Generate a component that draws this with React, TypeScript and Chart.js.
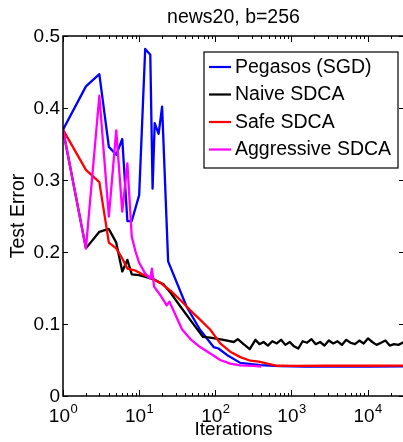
import React, { useEffect, useRef } from "react";
import { Chart, registerables } from "chart.js";

Chart.register(...registerables);

const TITLE = "news20, b=256";
const X_LABEL = "Iterations";
const Y_LABEL = "Test Error";
const SERIES_NAMES = ["Pegasos (SGD)", "Naive SDCA", "Safe SDCA", "Aggressive SDCA"];
const SERIES_COLORS = ["#0000ff", "#000000", "#ff0000", "#ff00ff"];
const X_MIN = 1;
const X_MAX = 30000;
const Y_MIN = 0;
const Y_MAX = 0.5;
const Y_TICKS = [0, 0.1, 0.2, 0.3, 0.4, 0.5];
const Y_TICK_LABELS = ["0", "0.1", "0.2", "0.3", "0.4", "0.5"];
const X_DECADES = [0, 1, 2, 3, 4];

const pegasosIter = [1, 2, 3, 4, 5, 6, 7, 8, 10, 12, 14, 15, 16, 18, 20, 24, 42, 63, 95, 110, 142, 213, 390, 700, 1500, 4000, 10000, 30000];
const pegasosErr = [0.370, 0.430, 0.447, 0.346, 0.335, 0.357, 0.243, 0.243, 0.279, 0.482, 0.474, 0.288, 0.379, 0.364, 0.402, 0.187, 0.124, 0.092, 0.068, 0.066, 0.057, 0.046, 0.043, 0.0415, 0.041, 0.041, 0.041, 0.0412];

const naiveIter = [1, 2, 3, 4, 5, 6, 7, 8, 10, 15, 21, 26, 35, 49, 69, 86, 128, 175, 197, 235, 283, 336, 380, 430, 490, 560, 640, 730, 830, 950, 1080, 1230, 1400, 1600, 1830, 2080, 2380, 2710, 3090, 3530, 4020, 4590, 5230, 5970, 6810, 7770, 8860, 10100, 11500, 13100, 15000, 17100, 19500, 22200, 25300, 30000];
const naiveErr = [0.370, 0.205, 0.228, 0.232, 0.213, 0.173, 0.189, 0.169, 0.168, 0.1625, 0.155, 0.143, 0.124, 0.103, 0.082, 0.081, 0.078, 0.075, 0.079, 0.072, 0.065, 0.078, 0.072, 0.075, 0.070, 0.076, 0.073, 0.078, 0.071, 0.075, 0.069, 0.066, 0.076, 0.074, 0.079, 0.072, 0.075, 0.070, 0.077, 0.073, 0.076, 0.071, 0.078, 0.074, 0.072, 0.077, 0.073, 0.080, 0.075, 0.071, 0.074, 0.077, 0.070, 0.072, 0.071, 0.075];

const safeIter = [1, 2, 3, 4, 5, 6, 7, 9, 11, 14, 19, 26, 35, 47, 63, 86, 116, 157, 213, 289, 372, 650, 1200, 3000, 8000, 30000];
const safeErr = [0.370, 0.314, 0.297, 0.213, 0.205, 0.191, 0.177, 0.174, 0.169, 0.165, 0.157, 0.146, 0.133, 0.119, 0.106, 0.092, 0.073, 0.0615, 0.054, 0.049, 0.0476, 0.042, 0.0418, 0.042, 0.042, 0.0422];

const aggrIter = [1, 2, 3, 4, 5, 6, 7, 8, 9, 10, 12, 14, 14.7, 15.7, 19, 23, 25, 30, 36.5, 47, 63, 86, 116, 157, 213, 320, 400];
const aggrErr = [0.370, 0.205, 0.417, 0.249, 0.369, 0.256, 0.323, 0.221, 0.200, 0.185, 0.170, 0.163, 0.177, 0.152, 0.140, 0.126, 0.131, 0.1125, 0.0926, 0.079, 0.068, 0.059, 0.050, 0.045, 0.0426, 0.0417, 0.041];

const FONT = "'Liberation Sans', Arial, Helvetica, sans-serif";

const toPoints = (xs: number[], ys: number[]) => xs.map((x, i) => ({ x, y: ys[i] }));

const matlabAxes = {
  id: "matlabAxes",
  afterDatasetsDraw(chart: any) {
    const { ctx, chartArea: a, scales } = chart;
    const xs = scales.x;
    const ys = scales.y;
    ctx.save();
    ctx.strokeStyle = "#000";
    ctx.fillStyle = "#000";

    // ticks (inward, all four sides)
    ctx.lineWidth = 1;
    ctx.beginPath();
    for (const v of Y_TICKS) {
      const p = Math.round(ys.getPixelForValue(v)) + 0.5;
      ctx.moveTo(a.left, p);
      ctx.lineTo(a.left + 5, p);
      ctx.moveTo(a.right, p);
      ctx.lineTo(a.right - 5, p);
    }
    for (const d of X_DECADES) {
      for (let m = 1; m <= 9; m++) {
        const v = m * Math.pow(10, d);
        if (v > X_MAX) break;
        const len = m === 1 ? 6 : 3;
        const p = Math.round(xs.getPixelForValue(v)) + 0.5;
        ctx.moveTo(p, a.bottom);
        ctx.lineTo(p, a.bottom - len);
        ctx.moveTo(p, a.top);
        ctx.lineTo(p, a.top + len);
      }
    }
    ctx.stroke();

    // box
    ctx.lineWidth = 1.5;
    ctx.strokeRect(a.left, a.top, a.right - a.left, a.bottom - a.top);

    // y tick labels
    ctx.font = `19px ${FONT}`;
    ctx.textAlign = "right";
    ctx.textBaseline = "middle";
    Y_TICKS.forEach((v, i) => {
      ctx.fillText(Y_TICK_LABELS[i], a.left - 3, ys.getPixelForValue(v) + 1);
    });

    // x tick labels 10^n
    ctx.textAlign = "left";
    ctx.textBaseline = "alphabetic";
    for (const d of X_DECADES) {
      const p = xs.getPixelForValue(Math.pow(10, d));
      const base = "10";
      const exp = String(d);
      ctx.font = `19px ${FONT}`;
      const wb = ctx.measureText(base).width;
      ctx.font = `13px ${FONT}`;
      const we = ctx.measureText(exp).width;
      const start = p - (wb + we) / 2;
      ctx.font = `19px ${FONT}`;
      ctx.fillText(base, start, 422);
      ctx.font = `13px ${FONT}`;
      ctx.fillText(exp, start + wb + 0.5, 413);
    }

    // axis titles
    const cx = (a.left + a.right) / 2;
    ctx.font = `19px ${FONT}`;
    ctx.textAlign = "center";
    ctx.textBaseline = "alphabetic";
    ctx.fillText(X_LABEL, cx, 435);
    ctx.font = `19.5px ${FONT}`;
    ctx.fillText(TITLE, cx, 23);

    ctx.save();
    ctx.font = `19.5px ${FONT}`;
    ctx.translate(18.5, (a.top + a.bottom) / 2);
    ctx.rotate(-Math.PI / 2);
    ctx.textBaseline = "middle";
    ctx.fillText(Y_LABEL, 0, 0);
    ctx.restore();

    // legend
    const lx = 204, ly = 52, lw = 194, lh = 116;
    ctx.fillStyle = "#fff";
    ctx.fillRect(lx, ly, lw, lh);
    ctx.strokeStyle = "#000";
    ctx.lineWidth = 1.2;
    ctx.strokeRect(lx, ly, lw, lh);
    const rowY = [67, 94.5, 122, 149.5];
    chart.data.datasets.forEach((ds: any, i: number) => {
      const y = rowY[i];
      ctx.strokeStyle = ds.borderColor;
      ctx.lineWidth = 2.2;
      ctx.beginPath();
      ctx.moveTo(209, y);
      ctx.lineTo(231, y);
      ctx.stroke();
      ctx.fillStyle = "#000";
      ctx.font = `19.5px ${FONT}`;
      ctx.textAlign = "left";
      ctx.textBaseline = "middle";
      ctx.fillText(ds.label, 235, y + 0.5);
    });

    ctx.restore();
  },
};

export default function App() {
  const ref = useRef<HTMLCanvasElement | null>(null);

  useEffect(() => {
    if (!ref.current) return;
    const seriesX = [pegasosIter, naiveIter, safeIter, aggrIter];
    const seriesY = [pegasosErr, naiveErr, safeErr, aggrErr];
    const orders = [4, 3, 2, 1];
    const chart = new Chart(ref.current, {
      type: "line",
      data: {
        datasets: SERIES_NAMES.map((name, i) => ({
          label: name,
          data: toPoints(seriesX[i], seriesY[i]),
          borderColor: SERIES_COLORS[i],
          backgroundColor: SERIES_COLORS[i],
          borderWidth: 2.3,
          pointRadius: 0,
          tension: 0,
          fill: false,
          borderJoinStyle: "round" as const,
          order: orders[i],
        })),
      },
      options: {
        responsive: false,
        animation: false,
        devicePixelRatio: 1,
        layout: { padding: { left: 63, right: 1, top: 36, bottom: 46 } },
        plugins: {
          legend: { display: false },
          title: { display: false },
          tooltip: { enabled: false },
        },
        scales: {
          x: { type: "logarithmic", min: X_MIN, max: X_MAX, display: false },
          y: { type: "linear", min: Y_MIN, max: Y_MAX, display: false },
        },
      },
      plugins: [matlabAxes],
    });
    return () => chart.destroy();
  }, []);

  return (
    <div style={{ position: "fixed", left: 0, top: 0, width: 403, height: 442, overflow: "hidden", background: "#fff" }}>
      <canvas ref={ref} width={405} height={442} style={{ display: "block" }} />
    </div>
  );
}
